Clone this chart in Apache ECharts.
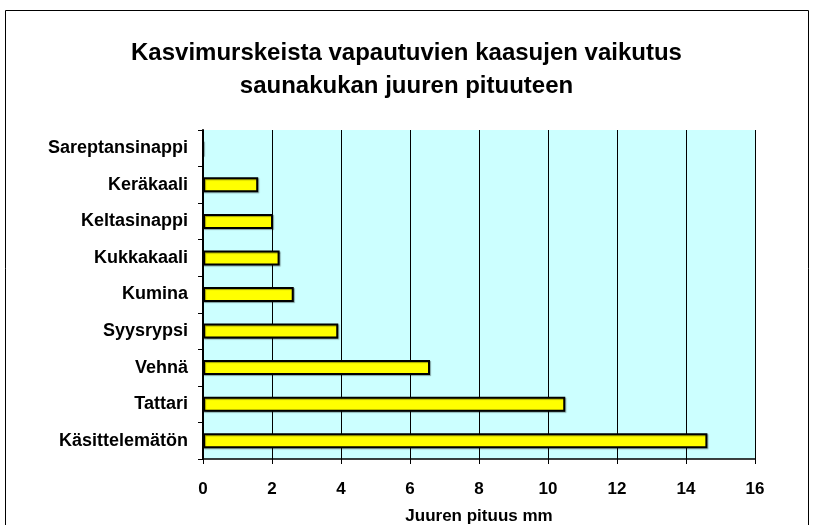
<!DOCTYPE html>
<html>
<head>
<meta charset="utf-8">
<script src="https://cdn.jsdelivr.net/npm/echarts@6/dist/echarts.min.js"></script>
<style>
  html, body { margin: 0; padding: 0; background: #fff; }
  #chart { width: 813px; height: 525px; }
</style>
</head>
<body>
<div id="chart"></div>
<script>
// kasvit (alhaalta ylös)
const categories = ["Käsittelemätön", "Tattari", "Vehnä", "Syysrypsi", "Kumina",
  "Kukkakaali", "Keltasinappi", "Keräkaali", "Sareptansinappi"];
const rootLength = [14.62, 10.5, 6.58, 3.92, 2.63, 2.22, 2.03, 1.6, 0];
const xTicks = [0, 2, 4, 6, 8, 10, 12, 14, 16];

const font = "Liberation Sans, Arial, sans-serif";
const chart = echarts.init(document.getElementById("chart"));

chart.setOption({
  animation: false,
  backgroundColor: "#ffffff",
  title: {
    text: "Kasvimurskeista vapautuvien kaasujen vaikutus\nsaunakukan juuren pituuteen",
    left: "center",
    top: 32,
    textStyle: {
      fontFamily: font, fontSize: 24, fontWeight: "bold", color: "#000", lineHeight: 33
    }
  },
  graphic: [{
    type: "rect",
    shape: { x: 5.5, y: 10.5, width: 803, height: 530 },
    style: { fill: "none", stroke: "#000", lineWidth: 1 },
    silent: true
  }],
  grid: {
    left: 203, right: 58, top: 130, bottom: 66,
    outerBoundsMode: "none",
    containLabel: false,
    show: true, backgroundColor: "#ccffff", borderWidth: 0
  },
  xAxis: {
    type: "value",
    min: 0, max: 16, interval: 2,
    name: "Juuren pituus mm",
    nameLocation: "middle",
    nameGap: 49,
    nameTextStyle: { fontFamily: font, fontSize: 17, fontWeight: "bold", color: "#000" },
    axisLine: { show: true, lineStyle: { color: "#000", width: 1.5 } },
    axisTick: { show: true, length: 5, lineStyle: { color: "#000" } },
    axisLabel: {
      margin: 22, fontFamily: font, fontSize: 17, fontWeight: "bold", color: "#000",
      formatter: v => xTicks.includes(v) ? String(v) : ""
    },
    splitLine: { show: true, lineStyle: { color: "#000", width: 1 } }
  },
  yAxis: {
    type: "category",
    data: categories,
    axisLine: { show: true, lineStyle: { color: "#000", width: 2 } },
    axisTick: { show: true, length: 5, lineStyle: { color: "#000" } },
    axisLabel: { margin: 15, fontFamily: font, fontSize: 18, fontWeight: "bold", color: "#000" },
    splitLine: { show: false }
  },
  series: [{
    type: "bar",
    data: rootLength,
    barWidth: 15,
    itemStyle: {
      color: "#ffff00", borderColor: "#000", borderWidth: 2,
      shadowColor: "rgba(0,0,0,0.35)", shadowOffsetX: 1, shadowOffsetY: 1, shadowBlur: 1
    }
  }]
});
</script>
</body>
</html>
